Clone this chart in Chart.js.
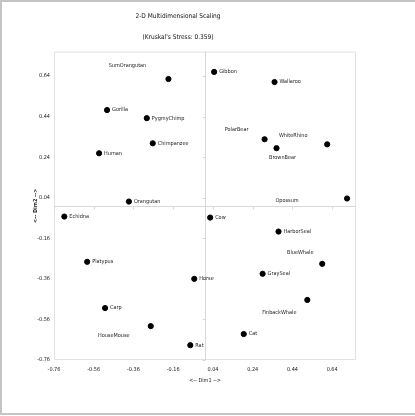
<!DOCTYPE html>
<html>
<head>
<meta charset="utf-8">
<script src="https://cdn.jsdelivr.net/npm/chart.js@4"></script>
<style>
  html, body { margin: 0; padding: 0; background: #fff; }
  #wrap { width: 415px; height: 416px; position: relative; }
</style>
</head>
<body>
<div id="wrap"><canvas id="myChart"></canvas></div>
<script>
const names = ['SumOrangutan', 'Gorilla', 'PygmyChimp', 'Chimpanzee', 'Human', 'Orangutan',
  'Gibbon', 'Wallaroo', 'PolarBear', 'BrownBear', 'WhiteRhino', 'Opossum',
  'Echidna', 'Platypus', 'Horse', 'Carp', 'HouseMouse', 'Rat',
  'Cow', 'HarborSeal', 'BlueWhale', 'GraySeal', 'FinbackWhale', 'Cat'];
const dim1 = [-0.184, -0.493, -0.293, -0.263, -0.533, -0.383,
  0.046, 0.350, 0.300, 0.360, 0.615, 0.715,
  -0.708, -0.593, -0.054, -0.503, -0.273, -0.074,
  0.026, 0.370, 0.590, 0.290, 0.515, 0.195];
const dim2 = [0.625, 0.472, 0.432, 0.308, 0.259, 0.021,
  0.660, 0.610, 0.328, 0.284, 0.303, 0.036,
  -0.053, -0.276, -0.360, -0.504, -0.593, -0.687,
  -0.058, -0.127, -0.286, -0.335, -0.464, -0.632];
const xTicks = [-0.76, -0.56, -0.36, -0.16, 0.04, 0.24, 0.44, 0.64];
const yTicks = [-0.76, -0.56, -0.36, -0.16, 0.04, 0.24, 0.44, 0.64];

const FONT = '"Liberation Sans Narrow", "DejaVu Sans Condensed", "Liberation Sans", sans-serif';

// labels that don't sit to the right of their point
const labelShift = {
  SumOrangutan: [-41, -13],
  PolarBear: [-28, -10],
  WhiteRhino: [-34, -9],
  BrownBear: [6, 9],
  Opossum: [-60, 2],
  BlueWhale: [-22, -11],
  FinbackWhale: [-28, 13],
  HouseMouse: [-37, 9]
};

const framePlugin = {
  id: 'frame',
  beforeDatasetsDraw(chart) {
    const {ctx, chartArea: a, scales: {x, y}} = chart;
    ctx.save();
    ctx.strokeStyle = '#e2e2e2';
    ctx.lineWidth = 1;
    ctx.strokeRect(a.left + 0.5, a.top + 0.5, a.right - a.left - 1, a.bottom - a.top - 1);
    const x0 = Math.round(x.getPixelForValue(0)) + 0.5;
    const y0 = Math.round(y.getPixelForValue(0)) + 0.5;
    ctx.strokeStyle = '#d8d8d8';
    ctx.beginPath();
    ctx.moveTo(x0, a.top); ctx.lineTo(x0, a.bottom);
    ctx.moveTo(a.left, y0); ctx.lineTo(a.right, y0);
    // small tick marks on the zero lines
    xTicks.forEach(v => {
      const px = Math.round(x.getPixelForValue(v)) + 0.5;
      ctx.moveTo(px, y0); ctx.lineTo(px, y0 + 3);
    });
    yTicks.forEach(v => {
      const py = Math.round(y.getPixelForValue(v)) + 0.5;
      ctx.moveTo(x0 - 3, py); ctx.lineTo(x0, py);
    });
    ctx.stroke();
    ctx.restore();
  },
  afterDatasetsDraw(chart) {
    const {ctx} = chart;
    const meta = chart.getDatasetMeta(0);
    ctx.save();
    ctx.font = '5.5px ' + FONT;
    ctx.fillStyle = '#222';
    ctx.textBaseline = 'middle';
    meta.data.forEach((pt, i) => {
      const n = names[i];
      if (labelShift[n]) {
        ctx.textAlign = 'center';
        ctx.fillText(n, pt.x + labelShift[n][0], pt.y + labelShift[n][1]);
      } else {
        ctx.textAlign = 'left';
        ctx.fillText(n, pt.x + 5, pt.y);
      }
    });
    ctx.restore();
  },
  afterDraw(chart) {
    const {ctx, width, height} = chart;
    ctx.save();
    ctx.strokeStyle = '#c4c4c4';
    ctx.lineWidth = 2;
    ctx.beginPath();
    ctx.moveTo(width, 1); ctx.lineTo(1, 1); ctx.lineTo(1, height - 2); ctx.lineTo(width, height - 2);
    ctx.stroke();
    ctx.restore();
  }
};

new Chart(document.getElementById('myChart'), {
  type: 'scatter',
  data: {
    datasets: [{
      label: 'MDS',
      data: names.map((n, i) => ({x: dim1[i], y: dim2[i]})),
      backgroundColor: '#000',
      borderColor: '#000',
      pointRadius: 2.6,
      pointHoverRadius: 2.6
    }]
  },
  options: {
    responsive: true,
    maintainAspectRatio: false,
    animation: false,
    layout: { padding: { left: 0, right: 59, top: 0, bottom: 0 } },
    scales: {
      x: {
        type: 'linear',
        min: -0.76,
        max: 0.76,
        afterBuildTicks: s => { s.ticks = xTicks.map(v => ({value: v})); },
        afterFit: s => { s.height = 56; },
        grid: { display: false, drawTicks: false },
        border: { display: false },
        ticks: {
          padding: 6,
          color: '#222',
          font: { size: 5.5, family: FONT },
          maxRotation: 0,
          callback: v => v.toFixed(2)
        },
        title: {
          display: true,
          text: '<-- Dim1 -->',
          color: '#222',
          font: { size: 5.5, family: FONT },
          padding: { top: 0, bottom: 32 }
        }
      },
      y: {
        type: 'linear',
        min: -0.76,
        max: 0.76,
        afterBuildTicks: s => { s.ticks = yTicks.map(v => ({value: v})); },
        afterFit: s => { s.width = 54; },
        grid: { display: false, drawTicks: false },
        border: { display: false },
        ticks: {
          padding: 4,
          color: '#222',
          font: { size: 5.5, family: FONT },
          callback: v => v.toFixed(2)
        },
        title: {
          display: true,
          text: '<-- Dim2 -->',
          color: '#222',
          font: { size: 5.5, family: FONT, weight: 'bold' },
          padding: { top: 32, bottom: 0 }
        }
      }
    },
    plugins: {
      legend: { display: false },
      tooltip: { enabled: false },
      title: {
        display: true,
        text: '2-D Multidimensional Scaling',
        color: '#111',
        font: { size: 6.5, family: FONT, weight: 'normal' },
        padding: { top: 12, bottom: 6 }
      },
      subtitle: {
        display: true,
        text: "(Kruskal's Stress: 0.359)",
        color: '#111',
        font: { size: 6.5, family: FONT },
        padding: { top: 8, bottom: 10 }
      }
    }
  },
  plugins: [framePlugin]
});
</script>
</body>
</html>
